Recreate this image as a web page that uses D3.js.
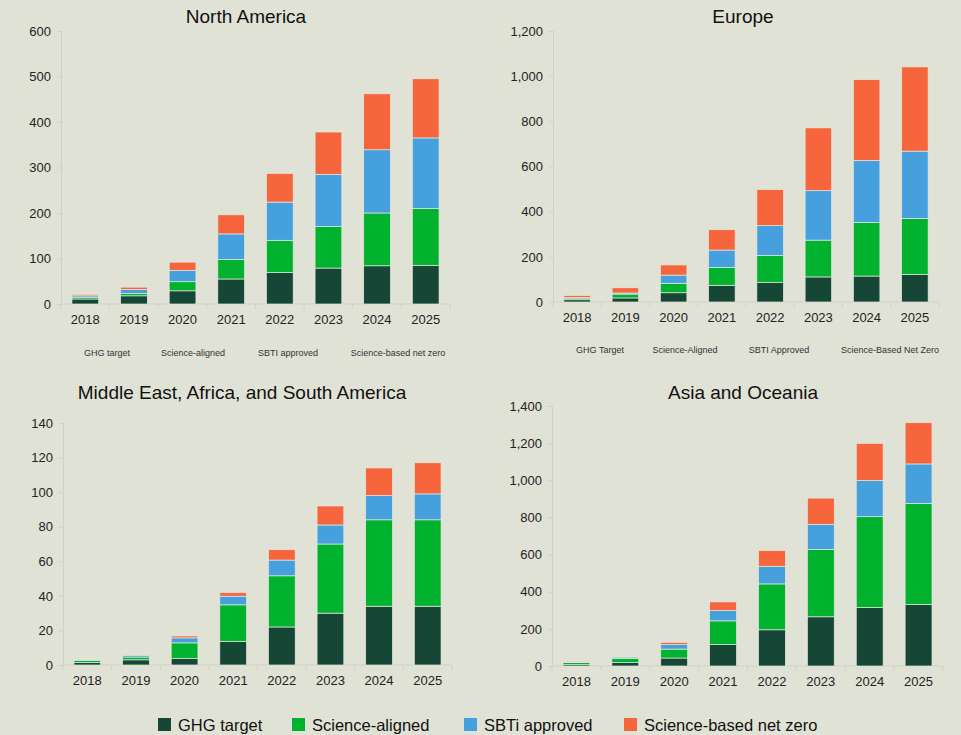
<!DOCTYPE html>
<html>
<head>
<meta charset="utf-8">
<script src="https://cdn.jsdelivr.net/npm/d3@7/dist/d3.min.js"></script>
<style>
  body { margin: 0; background: #e0e2d6; }
  svg { display: block; font-family: "Liberation Sans", Arial, sans-serif; }
</style>
</head>
<body>
<script>
// categories and series
const years = ["2018", "2019", "2020", "2021", "2022", "2023", "2024", "2025"];
const seriesKeys = ["ghg", "aligned", "sbti", "netzero"];
const legendLabels = ["GHG target", "Science-aligned", "SBTi approved", "Science-based net zero"];
const colors = ["#164636", "#00b22d", "#47a0de", "#f6653b"];

// North America
const naGhg = [11, 18, 29, 55, 69, 79, 84, 85];
const naAligned = [4, 5, 20, 43, 71, 91, 116, 125];
const naSbti = [3, 9, 25, 56, 84, 115, 139, 155];
const naNetZero = [3, 5, 18, 42, 63, 93, 123, 130];

// Europe
const euGhg = [10, 18, 41, 74, 86, 111, 115, 122];
const euAligned = [7, 17, 42, 79, 120, 163, 237, 248];
const euSbti = [3, 5, 36, 77, 132, 219, 275, 298];
const euNetZero = [9, 23, 45, 90, 160, 278, 358, 373];

// Middle East, Africa, and South America
const meaGhg = [1.5, 3, 3.7, 13.7, 22, 30, 34, 34];
const meaAligned = [1.2, 1.6, 9.1, 21.1, 29.6, 40, 50, 50];
const meaSbti = [0.2, 1, 2.9, 5, 9.1, 11, 14, 15];
const meaNetZero = [0, 0.2, 1.1, 2, 6, 11, 16, 18];

// Asia and Oceania
const asGhg = [7, 18, 43, 115, 195, 265, 315, 331];
const asAligned = [11, 23, 48, 128, 247, 362, 489, 544];
const asSbti = [3, 7, 24, 56, 95, 136, 195, 213];
const asNetZero = [2, 4, 12, 46, 84, 141, 200, 222];

// the small grey labels under the two top panels
const naNotes = ["GHG target", "Science-aligned", "SBTI approved", "Science-based net zero"];
const euNotes = ["GHG Target", "Science-Aligned", "SBTI Approved", "Science-Based Net Zero"];

const W = 961, H = 735;
const svg = d3.select("body").append("svg").attr("width", W).attr("height", H);

function table(a, b, c, d) {
  return years.map((y, i) => ({ year: y, ghg: a[i], aligned: b[i], sbti: c[i], netzero: d[i] }));
}

const panels = [
  { title: "North America", data: table(naGhg, naAligned, naSbti, naNetZero), max: 600, step: 100,
    x0: 61, x1: 450, yTop: 31, y0: 304, titleX: 246, titleY: 23, fmt: d3.format("d") },
  { title: "Europe", data: table(euGhg, euAligned, euSbti, euNetZero), max: 1200, step: 200,
    x0: 553, x1: 939, yTop: 31, y0: 302, titleX: 743, titleY: 23, fmt: d3.format(",") },
  { title: "Middle East, Africa, and South America", data: table(meaGhg, meaAligned, meaSbti, meaNetZero), max: 140, step: 20,
    x0: 63, x1: 452, yTop: 423, y0: 665, titleX: 242, titleY: 399, fmt: d3.format("d") },
  { title: "Asia and Oceania", data: table(asGhg, asAligned, asSbti, asNetZero), max: 1400, step: 200,
    x0: 552, x1: 943, yTop: 406, y0: 666, titleX: 743, titleY: 399, fmt: d3.format(",") }
];

const stack = d3.stack().keys(seriesKeys);

panels.forEach(p => {
  const g = svg.append("g");

  const x = d3.scaleBand().domain(years).range([p.x0, p.x1])
    .paddingInner(0.45).paddingOuter(0.225);
  const y = d3.scaleLinear().domain([0, p.max]).range([p.y0, p.yTop]);

  // y axis
  const yAxis = d3.axisLeft(y).tickValues(d3.range(0, p.max + 1, p.step))
    .tickFormat(p.fmt).tickSize(4).tickPadding(6);
  const gy = g.append("g").attr("transform", `translate(${p.x0},0)`).call(yAxis);
  gy.select(".domain").attr("stroke", "#cfd1c6");
  gy.selectAll(".tick line").attr("stroke", "#cfd1c6");
  gy.selectAll(".tick text").attr("fill", "#222").style("font-size", "13px");

  // x axis line with boundary ticks
  g.append("line").attr("x1", p.x0).attr("x2", p.x1).attr("y1", p.y0).attr("y2", p.y0)
    .attr("stroke", "#cfd1c6");
  const bounds = years.map(d => x(d) - x.step() * x.paddingInner() / 2 - 0.0001)
    .map((v, i) => i === 0 ? p.x0 : v).concat([p.x1]);
  g.selectAll(".bt").data(bounds).join("line")
    .attr("x1", d => d).attr("x2", d => d)
    .attr("y1", p.y0).attr("y2", p.y0 + 5)
    .attr("stroke", "#cfd1c6");
  g.selectAll(".yl").data(years).join("text")
    .attr("x", d => x(d) + x.bandwidth() / 2)
    .attr("y", p.y0 + 20)
    .attr("text-anchor", "middle")
    .attr("fill", "#222")
    .style("font-size", "13px")
    .text(d => d);

  // stacked bars
  const layers = stack(p.data);
  g.selectAll(".layer").data(layers).join("g")
    .attr("fill", (d, i) => colors[i])
    .selectAll("rect").data(d => d).join("rect")
    .attr("x", d => x(d.data.year))
    .attr("width", x.bandwidth())
    .attr("y", d => y(d[1]))
    .attr("height", d => Math.max(0, y(d[0]) - y(d[1])))
    .attr("stroke", "#e6e8de")
    .attr("stroke-width", 0.7);

  // title
  g.append("text").attr("x", p.titleX).attr("y", p.titleY)
    .attr("text-anchor", "middle").attr("fill", "#111")
    .style("font-size", "19px").text(p.title);
});

// small note labels under the top panels
const naNoteX = [107, 193, 288, 398];
const euNoteX = [600, 685, 779, 890];
svg.selectAll(".nn").data(naNotes).join("text")
  .attr("x", (d, i) => naNoteX[i]).attr("y", 356)
  .attr("text-anchor", "middle").attr("fill", "#333")
  .style("font-size", "9px").text(d => d);
svg.selectAll(".en").data(euNotes).join("text")
  .attr("x", (d, i) => euNoteX[i]).attr("y", 353)
  .attr("text-anchor", "middle").attr("fill", "#333")
  .style("font-size", "9px").text(d => d);

// bottom legend
const legendX = [158, 292, 464, 624];
const lg = svg.selectAll(".lg").data(legendLabels).join("g")
  .attr("transform", (d, i) => `translate(${legendX[i]},718)`);
lg.append("rect").attr("width", 13).attr("height", 13).attr("fill", (d, i) => colors[i]);
lg.append("text").attr("x", 20).attr("y", 12.5).attr("fill", "#111")
  .style("font-size", "16.5px").text(d => d);
</script>
</body>
</html>
